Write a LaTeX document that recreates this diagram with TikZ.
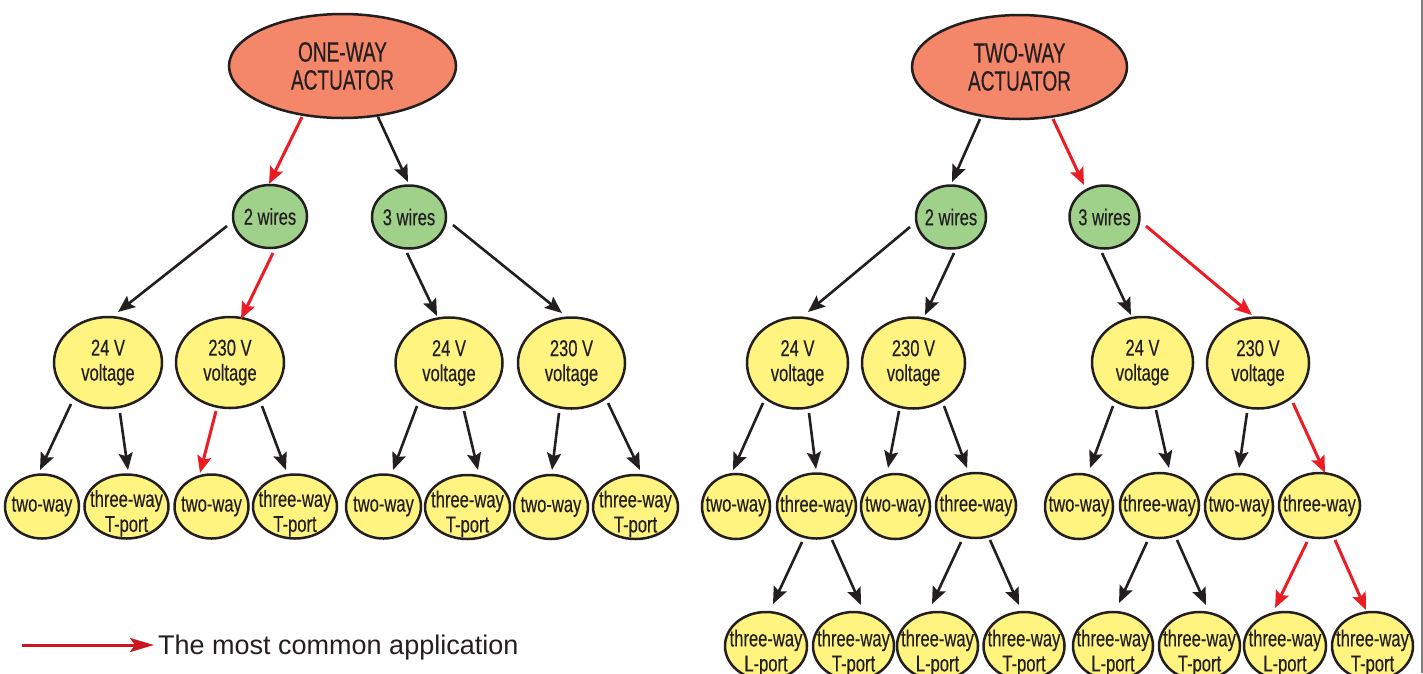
\documentclass[tikz,border=0pt]{standalone}
\usepackage{fontspec}
\setmainfont{Liberation Sans}
\newfontfamily\nodefont[FakeStretch=0.72,FakeBold=0.35]{Liberation Sans}
\newfontfamily\actfont[FakeStretch=0.68,FakeBold=0.35]{Liberation Sans}
\usetikzlibrary{shapes.geometric,arrows.meta,calc}
\definecolor{ink}{HTML}{231F20}
\definecolor{salmon}{HTML}{F4866A}
\definecolor{grn}{HTML}{9FD18B}
\definecolor{yel}{HTML}{FFF480}
\definecolor{redc}{HTML}{EC1C24}
\definecolor{legred}{HTML}{CA161E}
\newcommand\tl[2]{\rule{0pt}{30.5pt}#1\\#2}
\tikzset{
  ell/.style={ellipse, draw=ink, line width=2.5pt, inner sep=-30pt, align=center,
    text=ink, font=\nodefont\fontsize{23}{25}\selectfont},
  act/.style={ell, fill=salmon, minimum height=104pt, font=\actfont\fontsize{28}{28}\selectfont},
  wire/.style={ell, fill=grn, minimum height=63pt},
  volt/.style={ell, fill=yel, minimum height=91pt},
  leaf/.style={ell, fill=yel, minimum height=64pt},
  midl/.style={ell, fill=yel, minimum height=65pt},
  botl/.style={ell, fill=yel, minimum height=68pt},
  arr/.style={line width=2.6pt, draw=ink, -{Stealth[length=17pt,width=14pt,inset=3pt]}},
  rarr/.style={arr, draw=redc, line width=3pt},
}
\begin{document}
\begin{tikzpicture}[x=1pt,y=-1pt]
\useasboundingbox (0,0) rectangle (1423,673);
\clip (0,0) rectangle (1423,673);
% ---------- left tree ----------
\node[act, minimum width=227pt] (A1) at (342.5,66) {ONE-WAY\\ACTUATOR};
\node[wire, minimum width=74pt] (W2) at (270,216.5) {2 wires};
\node[wire, minimum width=74pt] (W3) at (409,217) {3 wires};
\node[volt, minimum width=108pt] (V24a) at (108,362.5) {24 V\\voltage};
\node[volt, minimum width=108pt] (V230a) at (230,362.5) {230 V\\voltage};
\node[volt, minimum width=107pt] (V24b) at (449,363) {24 V\\voltage};
\node[volt, minimum width=107pt] (V230b) at (571.5,363) {230 V\\voltage};
\node[leaf, minimum width=74pt] (L1) at (42,506.5) {two-way};
\node[leaf, minimum width=84pt] (L2) at (126.5,506.5) {\tl{three-way}{T-port}};
\node[leaf, minimum width=74pt] (L3) at (211.5,506.5) {two-way};
\node[leaf, minimum width=84pt] (L4) at (295,506.5) {\tl{three-way}{T-port}};
\node[leaf, minimum width=75pt] (L5) at (383.5,506.5) {two-way};
\node[leaf, minimum width=85pt] (L6) at (467.5,507) {\tl{three-way}{T-port}};
\node[leaf, minimum width=74pt] (L7) at (551,507) {two-way};
\node[leaf, minimum width=85pt] (L8) at (635.5,507) {\tl{three-way}{T-port}};
% ---------- right tree ----------
\node[act, minimum width=215pt] (A2) at (1019.5,67) {TWO-WAY\\ACTUATOR};
\node[wire, minimum width=70pt] (W2r) at (951,217) {2 wires};
\node[wire, minimum width=70pt] (W3r) at (1104.5,217) {3 wires};
\node[volt, minimum width=101pt] (V24c) at (797.5,363) {24 V\\voltage};
\node[volt, minimum width=103pt] (V230c) at (913.5,363) {230 V\\voltage};
\node[volt, minimum width=101pt] (V24d) at (1142.5,362.5) {24 V\\voltage};
\node[volt, minimum width=102pt] (V230d) at (1258,363) {230 V\\voltage};
\node[midl, minimum width=68pt] (M1) at (736,506.5) {two-way};
\node[midl, minimum width=79pt] (M2) at (816.5,506) {three-way};
\node[midl, minimum width=69pt] (M3) at (895.5,506.5) {two-way};
\node[midl, minimum width=80pt] (M4) at (976,505.5) {three-way};
\node[midl, minimum width=68pt] (M5) at (1079,506.5) {two-way};
\node[midl, minimum width=79pt] (M6) at (1159.5,505.5) {three-way};
\node[midl, minimum width=68pt] (M7) at (1239,506.5) {two-way};
\node[midl, minimum width=81pt] (M8) at (1319.5,505.5) {three-way};
\node[botl, minimum width=82pt] (B1) at (766,646) {\tl{three-way}{L-port}};
\node[botl, minimum width=81pt] (B2) at (853.5,646) {\tl{three-way}{T-port}};
\node[botl, minimum width=81pt] (B3) at (937.5,646) {\tl{three-way}{L-port}};
\node[botl, minimum width=81pt] (B4) at (1024,646) {\tl{three-way}{T-port}};
\node[botl, minimum width=80pt] (B5) at (1113,646) {\tl{three-way}{L-port}};
\node[botl, minimum width=81pt] (B6) at (1199.5,646) {\tl{three-way}{T-port}};
\node[botl, minimum width=82pt] (B7) at (1285,646) {\tl{three-way}{L-port}};
\node[botl, minimum width=81pt] (B8) at (1372.5,646) {\tl{three-way}{T-port}};
% ---------- arrows, left ----------
\draw[rarr] ($(A1)+(-40.5,51)$) -- ($(W2)+(-1,-32.5)$);
\draw[arr]  ($(A1)+(35.5,51)$) -- ($(W3)+(-1,-35)$);
\draw[arr]  ($(W2)+(-43,9.5)$) -- ($(V24a)+(10,-50.5)$);
\draw[rarr] ($(W2)+(3,36.5)$) -- ($(V230a)+(11,-43.5)$);
\draw[arr]  ($(W3)+(-2,36)$) -- ($(V24b)+(-12,-47)$);
\draw[arr]  ($(W3)+(44,8)$) -- ($(V230b)+(-9.5,-50)$);
\draw[arr]  ($(V24a)+(-37,41.5)$) -- ($(L1)+(-2,-36.5)$);
\draw[arr]  ($(V24a)+(12,50.5)$) -- ($(L2)+(1.5,-36.5)$);
\draw[rarr] ($(V230a)+(-14,48.5)$) -- ($(L3)+(-11.5,-33.5)$);
\draw[arr]  ($(V230a)+(32,43.5)$) -- ($(L4)+(-9,-36.5)$);
\draw[arr]  ($(V24b)+(-32,43)$) -- ($(L5)+(9.5,-36.5)$);
\draw[arr]  ($(V24b)+(15,48)$) -- ($(L6)+(10.5,-37)$);
\draw[arr]  ($(V230b)+(-12.5,50)$) -- ($(L7)+(1,-37)$);
\draw[arr]  ($(V230b)+(36.5,40)$) -- ($(L8)+(4.5,-37)$);
% ---------- arrows, right ----------
\draw[arr]  ($(A2)+(-39.5,52)$) -- ($(W2r)+(1,-35)$);
\draw[rarr] ($(A2)+(33.5,52)$) -- ($(W3r)+(-20.5,-32)$);
\draw[arr]  ($(W2r)+(-41,10)$) -- ($(V24c)+(10.5,-51)$);
\draw[arr]  ($(W2r)+(3,36)$) -- ($(V230c)+(11.5,-48)$);
\draw[arr]  ($(W3r)+(-2.5,36)$) -- ($(V24d)+(-11.5,-47.5)$);
\draw[rarr] ($(W3r)+(41.5,9)$) -- ($(V230d)+(-6,-48)$);
\draw[arr]  ($(V24c)+(-34.5,40)$) -- ($(M1)+(-3,-36.5)$);
\draw[arr]  ($(V24c)+(11.5,50)$) -- ($(M2)+(-0.5,-37)$);
\draw[arr]  ($(V230c)+(-14.5,48)$) -- ($(M3)+(-7.5,-38.5)$);
\draw[arr]  ($(V230c)+(30.5,43)$) -- ($(M4)+(-9,-37.5)$);
\draw[arr]  ($(V24d)+(-29.5,43.5)$) -- ($(M5)+(11,-38.5)$);
\draw[arr]  ($(V24d)+(13.5,47.5)$) -- ($(M6)+(9.5,-37.5)$);
\draw[arr]  ($(V230d)+(-11,50)$) -- ($(M7)+(0,-38.5)$);
\draw[rarr] ($(V230d)+(35,40)$) -- ($(M8)+(5.5,-32.5)$);
\draw[arr]  ($(M2)+(-14.5,36)$) -- ($(B1)+(7,-42)$);
\draw[arr]  ($(M2)+(15.5,34)$) -- ($(B2)+(7.5,-41)$);
\draw[arr]  ($(M4)+(-15,36.5)$) -- ($(B3)+(-5.5,-42)$);
\draw[arr]  ($(M4)+(14,34.5)$) -- ($(B4)+(-5,-41)$);
\draw[arr]  ($(M6)+(-12.5,36.5)$) -- ($(B5)+(6,-43)$);
\draw[arr]  ($(M6)+(17.5,34.5)$) -- ($(B6)+(6.5,-41)$);
\draw[rarr] ($(M8)+(-12.5,36.5)$) -- ($(B7)+(-10,-38)$);
\draw[rarr] ($(M8)+(15.5,34.5)$) -- ($(B8)+(-6.5,-36)$);
% ---------- legend ----------
\node[anchor=west, inner sep=0pt, text=ink, font=\fontsize{27}{29}\selectfont] (leg) at (158,648) {The most common application};
\coordinate (legS) at (22,645);
\draw[line width=3pt, draw=legred, shorten >=4pt, -{Stealth[length=24pt,width=14pt,inset=5pt]}] (legS) -- (legS -| leg.west);
% right frame edge
\draw[line width=1.5pt, draw=black!50] (1422,0) -- (1422,673);
\end{tikzpicture}
\end{document}
